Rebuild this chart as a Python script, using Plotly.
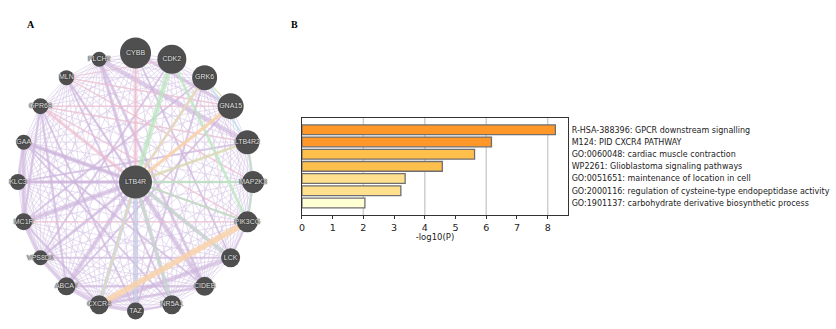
import math

import plotly.graph_objects as go

# panel A: gene network, ring order clockwise from the top
RING_GENES = ["CYBB", "CDK2", "GRK6", "GNA15", "LTB4R2", "MAP2K3", "PIK3CG", "LCK", "CIDEB", "NR5A1",
              "TAZ", "CXCR4", "ABCA7", "VPS8D1", "MC1R", "KLC3", "GAA", "GPR68", "MLN", "PLCH2"]
RING_DIAMETER = [31, 29, 25, 26, 24, 22, 21, 19, 19, 19, 17, 19, 18, 15, 17, 16, 15, 16, 15, 15]
CENTER_GENE = "LTB4R"
CENTER_DIAMETER = 33

PURPLE_EDGES = [
    ("LTB4R", "GAA", 4.5), ("LTB4R", "MC1R", 5), ("LTB4R", "KLC3", 3.5), ("LTB4R", "VPS8D1", 3),
    ("LTB4R", "ABCA7", 4.5), ("LTB4R", "TAZ", 5), ("LTB4R", "CIDEB", 5), ("LTB4R", "NR5A1", 4),
    ("LTB4R", "PLCH2", 3.5), ("LTB4R", "LCK", 4), ("LTB4R", "CXCR4", 3), ("LTB4R", "MLN", 2.5),
    ("PLCH2", "LTB4R2", 5), ("CYBB", "GNA15", 3.5), ("GAA", "MC1R", 4), ("MC1R", "VPS8D1", 4),
    ("VPS8D1", "ABCA7", 4), ("ABCA7", "CXCR4", 4.5), ("CXCR4", "TAZ", 4), ("CXCR4", "LCK", 4.5),
    ("CXCR4", "CIDEB", 3), ("TAZ", "NR5A1", 2.5), ("GAA", "KLC3", 3), ("LCK", "PIK3CG", 2.5),
    ("PIK3CG", "MAP2K3", 2.5), ("MAP2K3", "LTB4R2", 2.5), ("GAA", "CIDEB", 2), ("KLC3", "LTB4R2", 2),
    ("MC1R", "GRK6", 2), ("VPS8D1", "CDK2", 2), ("ABCA7", "GNA15", 2), ("GPR68", "TAZ", 2),
    ("MLN", "NR5A1", 2), ("PLCH2", "CIDEB", 3), ("CYBB", "LCK", 2), ("GRK6", "TAZ", 2),
    ("GAA", "PIK3CG", 2), ("KLC3", "MAP2K3", 2), ("VPS8D1", "LCK", 2), ("ABCA7", "CIDEB", 2.5),
    ("MC1R", "CXCR4", 2.5), ("GPR68", "ABCA7", 2.5), ("GAA", "NR5A1", 2), ("GPR68", "MC1R", 2.5),
]
PINK_EDGES = [
    ("LTB4R", "CYBB", 4), ("LTB4R", "GPR68", 3.5), ("GPR68", "PIK3CG", 1.5), ("GPR68", "LTB4R2", 1.5),
    ("GPR68", "GNA15", 1.5), ("MLN", "GNA15", 1.5), ("MLN", "MAP2K3", 1.5), ("MC1R", "PIK3CG", 1.5),
    ("LTB4R", "PIK3CG", 1.5), ("CDK2", "MLN", 1),
]
GREEN_EDGES = [
    ("LTB4R", "CDK2", 5), ("CDK2", "PIK3CG", 3), ("LTB4R", "MAP2K3", 2.5), ("LTB4R", "PIK3CG", 2),
    ("LTB4R", "LCK", 2), ("LTB4R", "NR5A1", 2), ("MAP2K3", "PIK3CG", 2), ("LTB4R2", "MAP2K3", 2),
]
ORANGE_EDGES = [
    ("CXCR4", "PIK3CG", 6), ("LTB4R", "GNA15", 3.5), ("LTB4R", "CXCR4", 1.5), ("LTB4R", "GRK6", 2),
]
BLUE_EDGES = [
    ("LTB4R", "CXCR4", 3.5), ("LTB4R", "GRK6", 3), ("GRK6", "LTB4R2", 2), ("LTB4R", "TAZ", 2),
]
TAN_EDGES = [("LTB4R", "LTB4R2", 3), ("GRK6", "GNA15", 1.5)]

# panel B: enrichment terms
TERMS = ["R-HSA-388396: GPCR downstream signalling", "M124: PID CXCR4 PATHWAY",
         "GO:0060048: cardiac muscle contraction", "WP2261: Glioblastoma signaling pathways",
         "GO:0051651: maintenance of location in cell",
         "GO:2000116: regulation of cysteine-type endopeptidase activity",
         "GO:1901137: carbohydrate derivative biosynthetic process"]
LOG_P = [8.25, 6.17, 5.62, 4.57, 3.36, 3.22, 2.05]
BAR_COLORS = ["#FF9829", "#FF9829", "#FFBF4D", "#FFBF4D", "#FFE08F", "#FFE08F", "#FFFFD4"]
GRID_AT = [2, 4, 6, 8]

EDGE_STYLES = [
    (PURPLE_EDGES, "rgba(205,180,220,0.6)"),
    (PINK_EDGES, "rgba(240,190,205,0.6)"),
    (GREEN_EDGES, "rgba(185,232,190,0.7)"),
    (BLUE_EDGES, "rgba(185,226,236,0.7)"),
    (TAN_EDGES, "rgba(220,220,175,0.7)"),
    (ORANGE_EDGES, "rgba(248,210,170,0.85)"),
]

W, H = 836, 329

# circular layout, the axis domains stretch it into the ellipse of the picture
pos = {CENTER_GENE: (0.0, 0.0)}
for i, gene in enumerate(RING_GENES):
    angle = math.radians(18 * i)
    pos[gene] = (math.sin(angle), math.cos(angle))

fig = go.Figure()

# faint mesh, every ring gene is linked to every other one
for i, gene in enumerate(RING_GENES):
    xs, ys = [], []
    for other in RING_GENES[i + 1:] + [CENTER_GENE]:
        xs += [pos[gene][0], pos[other][0], None]
        ys += [pos[gene][1], pos[other][1], None]
    fig.add_trace(go.Scatter(x=xs, y=ys, mode="lines", xaxis="x2", yaxis="y2", hoverinfo="skip",
                             line=dict(color="rgba(212,195,228,0.55)", width=1), showlegend=False))

for edges, color in EDGE_STYLES:
    for a, b, weight in edges:
        fig.add_trace(go.Scatter(x=[pos[a][0], pos[b][0]], y=[pos[a][1], pos[b][1]], mode="lines",
                                 xaxis="x2", yaxis="y2", hoverinfo="skip",
                                 line=dict(color=color, width=weight), showlegend=False))

genes = RING_GENES + [CENTER_GENE]
fig.add_trace(go.Scatter(
    x=[pos[g][0] for g in genes], y=[pos[g][1] for g in genes], mode="markers+text",
    text=genes, textposition="middle center", cliponaxis=False, xaxis="x2", yaxis="y2",
    marker=dict(color="#4f4f4f", size=RING_DIAMETER + [CENTER_DIAMETER], line_width=0, opacity=1),
    textfont=dict(family="Liberation Sans", size=7, color="#e4e4e4",
                  shadow="0 0 1px #333, 0 0 1px #333, 0 0 1px #333"),
    showlegend=False,
))

for value in GRID_AT:
    fig.add_shape(type="line", x0=value, x1=value, y0=0, y1=1, xref="x", yref="y domain",
                  layer="below", line=dict(color="#cfcfcf", width=1.5))

fig.add_trace(go.Bar(x=LOG_P, y=TERMS, orientation="h", width=0.8, showlegend=False,
                     marker=dict(color=BAR_COLORS, line=dict(color="#6f6f6f", width=1.3))))

fig.update_layout(
    width=W, height=H, margin=dict(l=0, r=0, t=0, b=0), plot_bgcolor="white", paper_bgcolor="white",
    font=dict(family="DejaVu Sans", color="#222"),
    xaxis=dict(domain=[300 / W, 567 / W], range=[0, 8.66], dtick=1, showgrid=False, zeroline=False,
               ticks="outside", ticklen=3, tickwidth=1, tickcolor="#333", tickfont_size=9.5,
               showline=True, linecolor="#333", linewidth=1.2, mirror=True,
               title=dict(text="-log10(P)", font_size=8.5, standoff=2)),
    yaxis=dict(domain=[1 - 215 / H, 1 - 117.5 / H], range=[6.99, -1.01], side="right", showgrid=False,
               ticks="", tickfont_size=8, ticklabelstandoff=1, zeroline=False,
               showline=True, linecolor="#333", linewidth=1.2, mirror=True),
    xaxis2=dict(domain=[15 / W, 251 / W], range=[-1, 1], visible=False, anchor="y2"),
    yaxis2=dict(domain=[1 - 311 / H, 1 - 53 / H], range=[-1, 1], visible=False, anchor="x2"),
    annotations=[
        dict(text="<b>A</b>", x=28 / W, y=1 - 24 / H, xref="paper", yref="paper", showarrow=False,
             xanchor="center", yanchor="middle", font=dict(family="Liberation Serif", size=10, color="black")),
        dict(text="<b>B</b>", x=293 / W, y=1 - 24 / H, xref="paper", yref="paper", showarrow=False,
             xanchor="center", yanchor="middle", font=dict(family="Liberation Serif", size=10, color="black")),
    ],
)

fig.write_html("out.html", config=dict(displayModeBar=False), post_script="document.body.style.margin='0';")
